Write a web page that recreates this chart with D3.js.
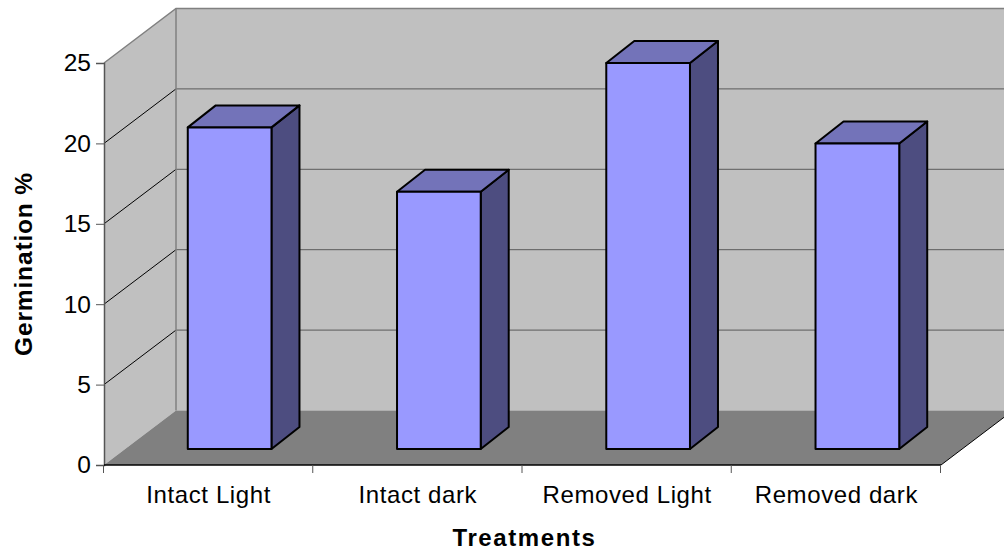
<!DOCTYPE html>
<html>
<head>
<meta charset="utf-8">
<script src="https://cdn.jsdelivr.net/npm/d3@7"></script>
<style>
  html, body { margin: 0; padding: 0; background: #fff; }
  svg { display: block; }
  text { font-family: "Liberation Sans", Arial, sans-serif; fill: #000; }
</style>
</head>
<body>
<div id="chart"></div>
<script>
const categories = ["Intact Light", "Intact dark", "Removed Light", "Removed dark"];
const germination = [20, 16, 24, 19];
const tickValues = [0, 5, 10, 15, 20, 25];

const width = 1004, height = 551;

// 3d box offsets
const depth = {x: 72, y: -54.5};
const barFront = {x: 21, y: -16};
const barDepth = {x: 28, y: -22};

const svg = d3.select("#chart").append("svg")
    .attr("width", width)
    .attr("height", height);

const x = d3.scaleBand()
    .domain(categories)
    .range([104, 941])
    .paddingInner(0.6)
    .paddingOuter(0.3);

const xTicks = d3.scaleLinear()
    .domain([0, categories.length])
    .range([104, 941]);

const y = d3.scaleLinear()
    .domain([0, 25])
    .range([465, 63]);

const poly = pts => pts.map(p => p.join(",")).join(" ");

const x0 = 104, x1 = 941;

// back wall
svg.append("polygon")
    .attr("points", poly([[x0 + depth.x, y(25) + depth.y], [x1 + depth.x, y(25) + depth.y], [x1 + depth.x, y(0) + depth.y], [x0 + depth.x, y(0) + depth.y]]))
    .attr("fill", "#c0c0c0");

// side wall
svg.append("polygon")
    .attr("points", poly([[x0, y(25)], [x0 + depth.x, y(25) + depth.y], [x0 + depth.x, y(0) + depth.y], [x0, y(0)]]))
    .attr("fill", "#c0c0c0");

// floor
svg.append("polygon")
    .attr("points", poly([[x0, y(0)], [x0 + depth.x, y(0) + depth.y], [x1 + depth.x, y(0) + depth.y], [x1, y(0)]]))
    .attr("fill", "#808080");

// gridlines on back wall and side wall
const inner = tickValues.filter(d => d > 0 && d < 25);

svg.selectAll(".grid-back").data(inner).enter().append("line")
    .attr("class", "grid-back")
    .attr("x1", x0 + depth.x).attr("x2", x1 + depth.x)
    .attr("y1", d => y(d) + depth.y).attr("y2", d => y(d) + depth.y)
    .attr("stroke", "#5a5a5a")
    .attr("stroke-width", 1);

svg.selectAll(".grid-side").data(inner).enter().append("line")
    .attr("class", "grid-side")
    .attr("x1", x0).attr("x2", x0 + depth.x)
    .attr("y1", d => y(d)).attr("y2", d => y(d) + depth.y)
    .attr("stroke", "#000")
    .attr("stroke-width", 1);

// wall outline
svg.append("polyline")
    .attr("points", poly([[x0, y(25)], [x0 + depth.x, y(25) + depth.y], [x1 + depth.x, y(25) + depth.y]]))
    .attr("fill", "none")
    .attr("stroke", "#808080")
    .attr("stroke-width", 1.5);

svg.append("line")
    .attr("x1", x0 + depth.x).attr("x2", x0 + depth.x)
    .attr("y1", y(25) + depth.y).attr("y2", y(0) + depth.y)
    .attr("stroke", "#808080")
    .attr("stroke-width", 1.5);

// floor right edge
svg.append("line")
    .attr("x1", x1).attr("x2", x1 + depth.x)
    .attr("y1", y(0)).attr("y2", y(0) + depth.y)
    .attr("stroke", "#000")
    .attr("stroke-width", 1);

// bars
const bars = svg.selectAll(".bar").data(germination).enter().append("g")
    .attr("class", "bar")
    .attr("stroke", "#000")
    .attr("stroke-width", 2)
    .attr("stroke-linejoin", "round");

const bx = (d, i) => x(categories[i]) + barFront.x;
const by = d => y(d) + barFront.y;
const bw = x.bandwidth();
const base = y(0) + barFront.y;

bars.append("polygon")
    .attr("fill", "#4d4d80")
    .attr("points", (d, i) => poly([
        [bx(d, i) + bw, by(d)],
        [bx(d, i) + bw + barDepth.x, by(d) + barDepth.y],
        [bx(d, i) + bw + barDepth.x, base + barDepth.y],
        [bx(d, i) + bw, base]]));

bars.append("polygon")
    .attr("fill", "#7373b9")
    .attr("points", (d, i) => poly([
        [bx(d, i), by(d)],
        [bx(d, i) + barDepth.x, by(d) + barDepth.y],
        [bx(d, i) + bw + barDepth.x, by(d) + barDepth.y],
        [bx(d, i) + bw, by(d)]]));

bars.append("rect")
    .attr("fill", "#9999ff")
    .attr("x", bx)
    .attr("y", by)
    .attr("width", bw)
    .attr("height", d => base - by(d));

// axes
const yAxis = d3.axisLeft(y).tickValues(tickValues).tickSize(8).tickPadding(5);
const yAxisGroup = svg.append("g")
    .attr("transform", `translate(${x0},0)`)
    .call(yAxis);
yAxisGroup.select(".domain").attr("stroke", "#555").attr("stroke-width", 1.5);
yAxisGroup.selectAll("line").attr("stroke", "#555");
yAxisGroup.selectAll("text").attr("font-size", 24.5);

const xAxisGroup = svg.append("g")
    .attr("transform", `translate(0,${y(0)})`);
xAxisGroup.append("line")
    .attr("x1", x0).attr("x2", x1)
    .attr("stroke", "#000").attr("stroke-width", 1.5);
xAxisGroup.selectAll(".tick").data(d3.range(categories.length + 1)).enter().append("line")
    .attr("class", "tick")
    .attr("x1", d => xTicks(d) - 0.5).attr("x2", d => xTicks(d) - 0.5)
    .attr("y1", 0).attr("y2", 8)
    .attr("stroke", "#555");
xAxisGroup.selectAll(".cat").data(categories).enter().append("text")
    .attr("class", "cat")
    .attr("x", (d, i) => xTicks(i + 0.5))
    .attr("y", 37.5)
    .attr("text-anchor", "middle")
    .attr("font-size", 24)
    .attr("letter-spacing", 0.6)
    .text(d => d);

// axis titles
svg.append("text")
    .attr("x", 524.5).attr("y", 546)
    .attr("text-anchor", "middle")
    .attr("font-size", 24)
    .attr("font-weight", "bold")
    .attr("letter-spacing", 1.6)
    .text("Treatments");

svg.append("text")
    .attr("transform", "translate(32,264) rotate(-90)")
    .attr("text-anchor", "middle")
    .attr("font-size", 24.5)
    .attr("font-weight", "bold")
    .attr("letter-spacing", 0.85)
    .text("Germination %");
</script>
</body>
</html>
